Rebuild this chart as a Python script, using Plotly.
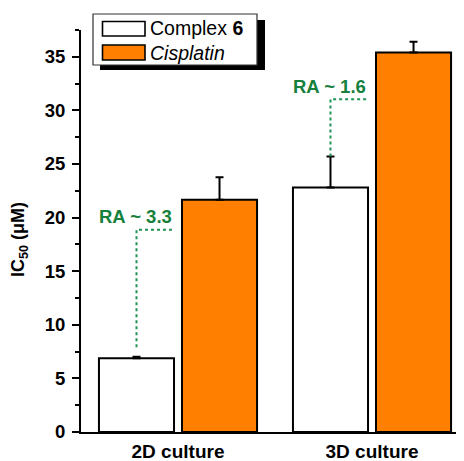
import plotly.graph_objects as go

categories = ["2D culture", "3D culture"]
complex6 = [6.88, 22.8]
complex6_err = [0.15, 2.9]
cisplatin = [21.66, 35.4]
cisplatin_err = [2.1, 1.0]
ra_labels = ["RA ~ 3.3", "RA ~ 1.6"]

# page has an 8px body margin; figure is sized so it fills the 464x461 window
OFF = 8
W, H = 464 - OFF, 461 - OFF
L, R, T, B = 81 - OFF, 1, 30 - OFF, 29
pw, ph = W - L - R, H - T - B

def px(x):  # reference-window pixel -> paper x
    return (x - OFF - L) / pw

def py(y):  # reference-window pixel -> paper y
    return (H - B - (y - OFF)) / ph

ORANGE = "#FF8000"
GREEN_T = "#16803c"
GREEN_L = "#1f9452"
FONT = "Liberation Sans, Arial, sans-serif"

fig = go.Figure()
fig.add_trace(go.Bar(
    x=categories, y=complex6, name="Complex 6",
    marker=dict(color="white", line=dict(color="black", width=2)),
    error_y=dict(type="data", array=complex6_err, arrayminus=[0, 0], symmetric=False,
                 color="black", thickness=2, width=4),
))
fig.add_trace(go.Bar(
    x=categories, y=cisplatin, name="Cisplatin",
    marker=dict(color=ORANGE, line=dict(color="black", width=2)),
    error_y=dict(type="data", array=cisplatin_err, arrayminus=[0, 0], symmetric=False,
                 color="black", thickness=2, width=4),
))

bargap = 0.144
off = (1 - bargap) / 4  # center offset of each bar within a group

shapes = []
annotations = []
# RA annotations with dotted connectors
ra_y = [20.1, 32.2]
ra_h = [18.86, 31.05]
ra_start = [7.9, complex6[1] + complex6_err[1]]
for i in range(2):
    xc = i - off
    xr = i - 0.022
    shapes.append(dict(type="path", xref="x", yref="y",
                       path=f"M {xc},{ra_start[i]} L {xc},{ra_h[i]} L {xr},{ra_h[i]}",
                       line=dict(color=GREEN_L, width=2, dash="dot")))
    annotations.append(dict(x=xr, y=ra_y[i], xref="x", yref="y", text=f"<b>{ra_labels[i]}</b>",
                            showarrow=False, xanchor="right", yanchor="middle",
                            font=dict(size=18.5, color=GREEN_T, family=FONT)))

# custom legend (shadow, box, swatches)
shapes.append(dict(type="rect", xref="paper", yref="paper",
                   x0=px(100), x1=px(265), y0=py(70), y1=py(20),
                   fillcolor="black", line=dict(width=0)))
shapes.append(dict(type="rect", xref="paper", yref="paper",
                   x0=px(93), x1=px(257), y0=py(65), y1=py(14),
                   fillcolor="white", line=dict(color="#333333", width=1.2)))
shapes.append(dict(type="rect", xref="paper", yref="paper",
                   x0=px(102.5), x1=px(145), y0=py(36), y1=py(21.5),
                   fillcolor="white", line=dict(color="black", width=1.6)))
shapes.append(dict(type="rect", xref="paper", yref="paper",
                   x0=px(102.5), x1=px(145), y0=py(60), y1=py(45),
                   fillcolor=ORANGE, line=dict(color="black", width=1.6)))
annotations.append(dict(x=px(148), y=py(28.5), xref="paper", yref="paper",
                        text="Complex <b>6</b>", showarrow=False, xanchor="left", yanchor="middle",
                        font=dict(size=19.5, color="black", family=FONT)))
annotations.append(dict(x=px(148), y=py(53), xref="paper", yref="paper",
                        text="<i>Cisplatin</i>", showarrow=False, xanchor="left", yanchor="middle",
                        font=dict(size=19.5, color="black", family=FONT)))
# y-axis title
annotations.append(dict(x=px(20), y=py(240), xref="paper", yref="paper",
                        text="<b>IC<sub>50</sub> (μM)</b>", showarrow=False, textangle=-90,
                        xanchor="center", yanchor="middle", borderpad=0,
                        font=dict(size=18, color="black", family=FONT)))

fig.update_layout(
    width=W, height=H,
    margin=dict(l=L, r=R, t=T, b=B, pad=0, autoexpand=False),
    paper_bgcolor="white", plot_bgcolor="white",
    barmode="group", bargap=bargap, bargroupgap=0.096,
    showlegend=False,
    shapes=shapes, annotations=annotations,
    font=dict(family=FONT, color="black"),
)
fig.update_xaxes(type="category", range=[-0.5, 1.469], showline=True, linecolor="black",
                 linewidth=2, ticks="", showgrid=False, zeroline=False, automargin=False,
                 tickfont=dict(size=19, family="Liberation Sans, Arial", weight="bold"),
                 ticklabelstandoff=1)
fig.update_yaxes(range=[0, 37.5], dtick=5, showline=True, linecolor="black", linewidth=2,
                 ticks="outside", ticklen=7, tickwidth=2, tickcolor="black",
                 minor=dict(dtick=2.5, ticks="outside", ticklen=4, tickwidth=2, tickcolor="black",
                            showgrid=False),
                 showgrid=False, zeroline=False, automargin=False,
                 tickfont=dict(size=18.5, family="Liberation Sans, Arial", weight="bold"),
                 ticklabelstandoff=3)

fig.write_html("out.html")
